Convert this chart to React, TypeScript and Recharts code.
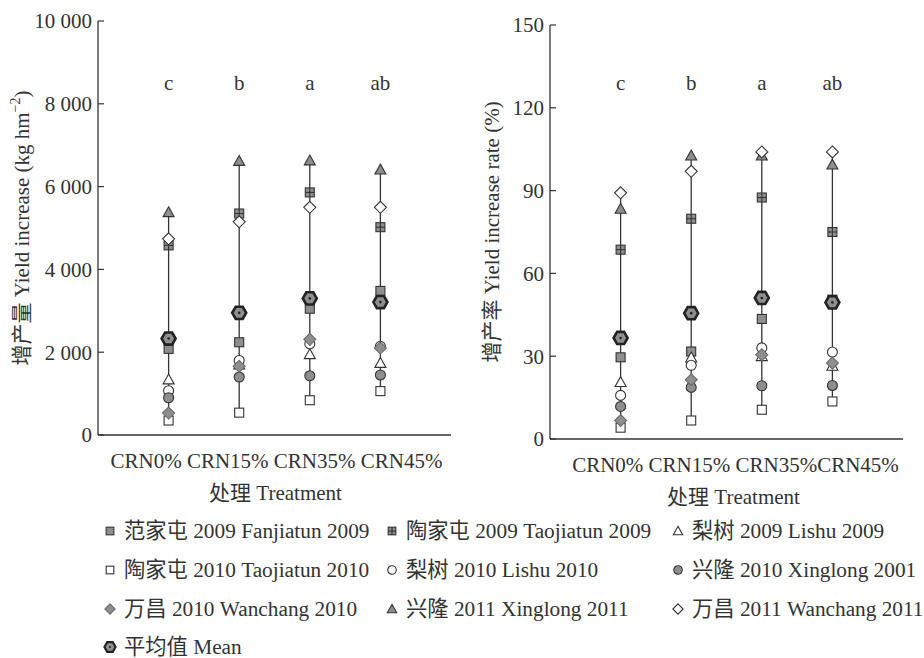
import React from 'react'
import { ScatterChart, Scatter, XAxis, YAxis, Label } from 'recharts'

const categories = ['CRN0%', 'CRN15%', 'CRN35%', 'CRN45%']
const lettersA = ['c', 'b', 'a', 'ab']
const lettersB = ['c', 'b', 'a', 'ab']
const ticksA = [0, 2000, 4000, 6000, 8000, 10000]
const ticksB = [0, 30, 60, 90, 120, 150]
const letterLevelA = 8500
const letterLevelB = 129

// A: yield increase, kg hm-2
const fanjiatun2009A = [2080, 2240, 3050, 3480]
const taojiatun2009A = [4580, 5350, 5860, 5020]
const lishu2009A = [1340, 1700, 1950, 1740]
const taojiatun2010A = [350, 540, 840, 1060]
const lishu2010A = [1070, 1800, 2200, 2140]
const xinglong2010A = [900, 1400, 1430, 1450]
const wanchang2010A = [530, 1660, 2310, 2100]
const xinglong2011A = [5380, 6620, 6630, 6410]
const wanchang2011A = [4740, 5150, 5500, 5500]
const meanA = [2330, 2950, 3300, 3210]

// B: yield increase rate, %
const fanjiatun2009B = [29.6, 31.7, 43.5, 50.5]
const taojiatun2009B = [68.6, 79.8, 87.5, 75.0]
const lishu2009B = [20.6, 29.5, 30.0, 26.5]
const taojiatun2010B = [4.1, 6.7, 10.6, 13.6]
const lishu2010B = [15.8, 26.7, 33.0, 31.5]
const xinglong2010B = [11.8, 18.7, 19.3, 19.4]
const wanchang2010B = [6.7, 21.5, 30.5, 27.5]
const xinglong2011B = [83.4, 102.7, 102.7, 99.4]
const wanchang2011B = [89.2, 97.0, 104.0, 104.0]
const meanB = [36.6, 45.6, 51.1, 49.5]

const seriesInfo = [
  { name: '范家屯 2009 Fanjiatun 2009', marker: 'square', a: fanjiatun2009A, b: fanjiatun2009B },
  { name: '陶家屯 2009 Taojiatun 2009', marker: 'squareCross', a: taojiatun2009A, b: taojiatun2009B },
  { name: '梨树 2009 Lishu 2009', marker: 'triangleOpen', a: lishu2009A, b: lishu2009B },
  { name: '陶家屯 2010 Taojiatun 2010', marker: 'squareOpen', a: taojiatun2010A, b: taojiatun2010B },
  { name: '梨树 2010 Lishu 2010', marker: 'circleOpen', a: lishu2010A, b: lishu2010B },
  { name: '兴隆 2010 Xinglong 2001', marker: 'circle', a: xinglong2010A, b: xinglong2010B },
  { name: '万昌 2010 Wanchang 2010', marker: 'diamond', a: wanchang2010A, b: wanchang2010B },
  { name: '兴隆 2011 Xinglong 2011', marker: 'triangle', a: xinglong2011A, b: xinglong2011B },
  { name: '万昌 2011 Wanchang 2011', marker: 'diamondOpen', a: wanchang2011A, b: wanchang2011B },
  { name: '平均值 Mean', marker: 'mean', a: meanA, b: meanB },
]

const FONT = '"Liberation Serif", "Times New Roman", "Noto Sans CJK SC", serif'
const INK = '#333'
const GRAY = '#8e8e8e'

function MarkerShape({ kind, cx, cy, s = 1 }: { kind: string; cx: number; cy: number; s?: number }) {
  const h = 4.5 * s
  const sw = 1.1
  switch (kind) {
    case 'square':
    case 'squareOpen':
      return <rect x={cx - h} y={cy - h} width={2 * h} height={2 * h} fill={kind === 'square' ? GRAY : '#fff'} stroke={INK} strokeWidth={sw} />
    case 'squareCross':
      return (
        <g>
          <rect x={cx - h} y={cy - h} width={2 * h} height={2 * h} fill={GRAY} stroke={INK} strokeWidth={sw} />
          <line x1={cx - h} x2={cx + h} y1={cy} y2={cy} stroke={INK} strokeWidth={sw} />
          <line x1={cx} x2={cx} y1={cy - h} y2={cy + h} stroke={INK} strokeWidth={sw} />
        </g>
      )
    case 'triangle':
    case 'triangleOpen': {
      const t = 5.5 * s
      return (
        <polygon
          points={`${cx},${cy - t} ${cx + t},${cy + t * 0.8} ${cx - t},${cy + t * 0.8}`}
          fill={kind === 'triangle' ? GRAY : '#fff'}
          stroke={INK}
          strokeWidth={sw}
        />
      )
    }
    case 'circle':
    case 'circleOpen':
      return <circle cx={cx} cy={cy} r={5 * s} fill={kind === 'circle' ? GRAY : '#fff'} stroke={INK} strokeWidth={sw} />
    case 'diamond':
    case 'diamondOpen': {
      const d = 6 * s
      return (
        <polygon
          points={`${cx},${cy - d} ${cx + d},${cy} ${cx},${cy + d} ${cx - d},${cy}`}
          fill={kind === 'diamond' ? GRAY : '#fff'}
          stroke={kind === 'diamond' ? '#6a6a6a' : INK}
          strokeWidth={sw}
        />
      )
    }
    case 'mean': {
      const r = 7 * s
      const pts = [0, 60, 120, 180, 240, 300]
        .map(a => `${cx + r * Math.cos((a * Math.PI) / 180)},${cy + r * Math.sin((a * Math.PI) / 180)}`)
        .join(' ')
      return (
        <g>
          <polygon points={pts} fill={GRAY} stroke="#222" strokeWidth={2.6 * s} />
          <circle cx={cx} cy={cy} r={1.3 * s} fill="#222" />
        </g>
      )
    }
    default:
      return <g />
  }
}

const fmtThousands = (v: number) => (v >= 1000 ? `${Math.floor(v / 1000)} ${String(v % 1000).padStart(3, '0')}` : String(v))

interface PanelProps {
  panel: 'a' | 'b'
  letters: string[]
  letterLevel: number
  ticks: number[]
  tickFormatter: (v: number) => string
  yLabel: React.ReactNode
  yLabelX: number
  tag: string
  xText: string
  xTextShift: number
  treatShift: number
  width: number
  margin: { top: number; right: number; left: number; bottom: number }
  yWidth: number
  xHeight: number
}

function Panel(p: PanelProps) {
  const rangeSets = categories.map((c, i) => {
    const vals = seriesInfo.map(s => s[p.panel][i])
    return [
      { x: i + 1, y: Math.min(...vals) },
      { x: i + 1, y: Math.max(...vals) },
    ]
  })
  const letterData = categories.map((c, i) => ({ x: i + 1, y: p.letterLevel, text: p.letters[i] }))
  const textStyle = { fontFamily: FONT, fontSize: 21, fill: INK }

  return (
    <ScatterChart width={p.width} height={510} margin={p.margin}>
      <XAxis
        dataKey="x"
        type="number"
        domain={[0, 5]}
        ticks={[1, 2, 3, 4]}
        tick={false}
        tickSize={-6}
        height={p.xHeight}
        axisLine={{ stroke: INK, strokeWidth: 1.3 }}
        tickLine={{ stroke: INK, strokeWidth: 1.2 }}
      >
        <Label
          content={(lp: any) => {
            const vb = lp.viewBox
            return (
              <text x={vb.x + vb.width / 2 + p.xTextShift} y={vb.y + 26} textAnchor="middle" dominantBaseline="central" style={textStyle}>
                {p.xText}
              </text>
            )
          }}
        />
        <Label
          content={(lp: any) => {
            const vb = lp.viewBox
            return (
              <text x={vb.x + vb.width / 2 + p.treatShift} y={vb.y + 58} textAnchor="middle" dominantBaseline="central" style={textStyle}>
                处理 Treatment
              </text>
            )
          }}
        />
      </XAxis>
      <XAxis
        xAxisId="top"
        orientation="top"
        type="number"
        domain={[0, 5]}
        height={0}
        tick={false}
        tickLine={false}
        axisLine={{ stroke: INK, strokeWidth: 1.3 }}
      >
        <Label
          content={(lp: any) => {
            const vb = lp.viewBox
            return (
              <text x={vb.x + vb.width - 16} y={vb.y + 27} textAnchor="end" dominantBaseline="central" style={textStyle}>
                {p.tag}
              </text>
            )
          }}
        />
      </XAxis>
      <YAxis
        dataKey="y"
        type="number"
        domain={[p.ticks[0], p.ticks[p.ticks.length - 1]]}
        ticks={p.ticks}
        tickFormatter={p.tickFormatter}
        width={p.yWidth}
        tickSize={-6}
        tickMargin={12}
        tick={{ fontFamily: FONT, fontSize: 21, fill: INK, style: { fontFamily: FONT } }}
        axisLine={{ stroke: INK, strokeWidth: 1.3 }}
        tickLine={{ stroke: INK, strokeWidth: 1.2 }}
      >
        <Label
          content={(lp: any) => {
            const vb = lp.viewBox
            const cx = vb.x + p.yLabelX
            const cy = vb.y + vb.height / 2
            return (
              <text x={cx} y={cy} textAnchor="middle" dominantBaseline="central" transform={`rotate(-90 ${cx} ${cy})`} style={textStyle}>
                {p.yLabel}
              </text>
            )
          }}
        />
      </YAxis>
      <YAxis
        yAxisId="right"
        orientation="right"
        type="number"
        domain={[p.ticks[0], p.ticks[p.ticks.length - 1]]}
        width={0}
        tick={false}
        tickLine={false}
        axisLine={{ stroke: INK, strokeWidth: 1.3 }}
      />
      {rangeSets.map((d, i) => (
        <Scatter
          key={`range-${i}`}
          data={d}
          line={{ stroke: INK, strokeWidth: 1.3 }}
          lineType="joint"
          shape={() => <g />}
          isAnimationActive={false}
        />
      ))}
      {seriesInfo.map(s => (
        <Scatter
          key={s.name}
          name={s.name}
          data={s[p.panel].map((v, i) => ({ x: i + 1, y: v }))}
          shape={(sp: any) => <MarkerShape kind={s.marker} cx={sp.cx} cy={sp.cy} />}
          isAnimationActive={false}
        />
      ))}
      <Scatter
        data={letterData}
        isAnimationActive={false}
        shape={(sp: any) => (
          <text x={sp.cx} y={sp.cy} textAnchor="middle" dominantBaseline="central" style={textStyle}>
            {sp.payload.text}
          </text>
        )}
      />
    </ScatterChart>
  )
}

const legendRowY = [531, 570, 609, 647]
const legendColX = [110, 392, 678]

function LegendBlock() {
  return (
    <div style={{ position: 'absolute', left: 0, top: 0, width: 924, height: 658, pointerEvents: 'none' }}>
      {seriesInfo.map((s, i) => {
        const row = Math.floor(i / 3)
        const col = i % 3
        const x = legendColX[col]
        const y = legendRowY[row]
        return (
          <div key={s.name} style={{ position: 'absolute', left: x - 7, top: y - 10, height: 20, display: 'flex', alignItems: 'center', whiteSpace: 'nowrap' }}>
            <svg width={14} height={14} style={{ marginRight: 7 }}>
              <MarkerShape kind={s.marker} cx={7} cy={7} s={s.marker === 'mean' ? 0.8 : 0.85} />
            </svg>
            <span style={{ fontFamily: FONT, fontSize: 21.3, color: INK, lineHeight: '20px' }}>{s.name}</span>
          </div>
        )
      })}
    </div>
  )
}

export default function App() {
  return (
    <div style={{ position: 'absolute', left: 0, top: 0, width: 924, height: 658, background: '#fff', overflow: 'hidden' }}>
      <div style={{ position: 'absolute', left: 0, top: 0 }}>
        <Panel
          panel="a"
          letters={lettersA}
          letterLevel={letterLevelA}
          ticks={ticksA}
          tickFormatter={fmtThousands}
          yLabel={
            <>
              增产量 Yield increase (kg hm
              <tspan dy={-7} fontSize={14}>−2</tspan>
              <tspan dy={7}>)</tspan>
            </>
          }
          yLabelX={22}
          tag="A"
          xText={categories.join(' ')}
          xTextShift={2}
          treatShift={1}
          width={462}
          margin={{ top: 21, right: 11, left: 0, bottom: 0 }}
          yWidth={98}
          xHeight={75}
        />
      </div>
      <div style={{ position: 'absolute', left: 462, top: 0 }}>
        <Panel
          panel="b"
          letters={lettersB}
          letterLevel={letterLevelB}
          ticks={ticksB}
          tickFormatter={(v: number) => String(v)}
          yLabel="增产率 Yield increase rate (%)"
          yLabelX={30}
          tag="B"
          xText={`${categories[0]} ${categories[1]} ${categories[2]}${categories[3]}`}
          xTextShift={9}
          treatShift={7}
          width={462}
          margin={{ top: 25, right: 21, left: 0, bottom: 0 }}
          yWidth={88}
          xHeight={71}
        />
      </div>
      <LegendBlock />
    </div>
  )
}
